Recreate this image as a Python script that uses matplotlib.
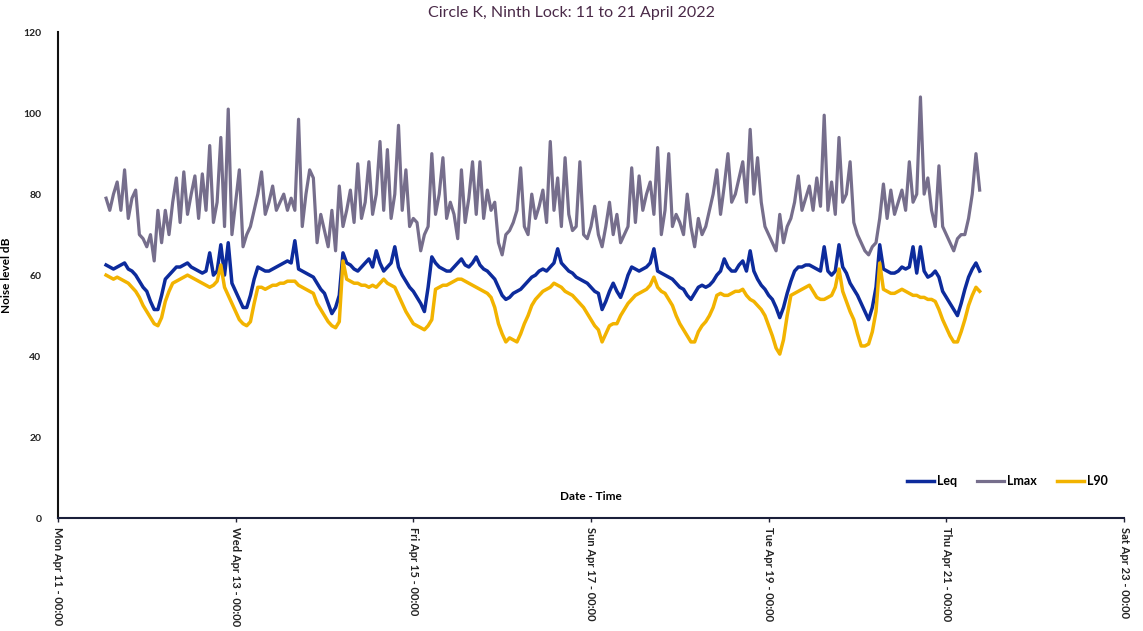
import numpy as np
import pandas as pd
import matplotlib
matplotlib.use("Agg")
import matplotlib.pyplot as plt
import matplotlib.dates as mdates

plt.rcParams['font.family'] = ['Lato', 'DejaVu Sans']

# hourly readings, 11 Apr 13:00 -> 21 Apr 09:00
start = '2022-04-11 13:00'

leq = [
    62.5, 62, 61.5, 62, 62.5, 63, 61.5, 61, 60, 58.5, 57,
    56, 53.5, 51.5, 51.5, 55, 59, 60, 61, 62, 62, 62.5, 63, 62, 61.5, 61, 60.5, 61, 65.5, 60, 61, 67.5, 60, 68, 58,
    56, 54, 52, 52, 55, 59, 62, 61.5, 61, 61, 61.5, 62, 62.5, 63, 63.5, 63, 68.5, 61.5, 61, 60.5, 60, 59.5, 58, 56.5,
    55.5, 53, 50.5, 52, 55, 65.5, 63, 62.5, 61.5, 61, 62, 63, 64, 62, 66, 63, 61, 62, 63, 67, 62, 60, 58.5, 57,
    56, 54.5, 53, 51, 57, 64.5, 63, 62, 61.5, 61, 61, 62, 63, 64, 62.5, 62, 63, 64.5, 62.5, 61.5, 61, 60, 59, 57,
    55, 54, 54.5, 55.5, 56, 56.5, 57.5, 58.5, 59.5, 60, 61, 61.5, 61, 62, 63, 66.5, 63, 62, 61, 60.5, 59.5, 59, 58.5, 58,
    57, 56, 55.5, 51.5, 53.5, 56, 58, 56, 54.5, 57, 60, 62, 61.5, 61, 61.5, 62, 63, 66.5, 61, 60.5, 60, 59.5, 59, 58,
    57, 56.5, 55, 54, 55.5, 57, 57.5, 57, 57.5, 58.5, 60, 61, 64, 62, 61, 61, 62.5, 63.5, 61, 66, 61, 59, 57.5, 56.5,
    55, 54, 52, 49.5, 52, 55.5, 58.5, 61, 62, 62, 62.5, 62.5, 62, 61.5, 61, 67, 61, 60, 61, 67.5, 62, 60.5, 58, 56.5,
    55, 53, 51, 49, 52, 57, 67.5, 61.5, 61, 60.5, 60.5, 61, 62, 61.5, 62, 67, 60.5, 67, 61, 59.5, 60, 61, 59.5, 56,
    54.5, 53, 51.5, 50, 53, 56.5, 59.5, 61.5, 63, 61,
]

lmax = [
    79, 76, 80, 83, 76, 86, 74, 79, 81, 70, 69,
    67, 70, 63.5, 76, 68, 76, 70, 78, 84, 73, 85.5, 75, 80, 84.5, 74, 85, 76, 92, 73, 78, 94, 72, 101, 70,
    78, 86, 67, 70, 72, 76, 80, 85.5, 75, 78, 82, 76, 78, 80, 76, 79, 76, 98.5, 72, 80, 86, 84, 68, 75,
    71, 67, 76, 66, 82, 72, 76, 81, 73, 87.5, 74, 78, 88, 75, 80, 93, 76, 91, 74, 80, 97, 76, 86, 72,
    74, 73, 66, 70, 72, 90, 75, 80, 89, 74, 78, 75, 69, 86, 73, 79, 88, 75, 88, 74, 81, 76, 78, 68,
    65, 70, 71, 73, 76, 86.5, 72, 70, 80, 74, 77, 81, 73, 93, 76, 84, 72, 89, 75, 71, 72, 88, 70, 69,
    72, 77, 70, 67, 72, 78, 70, 75, 68, 70, 72, 86.5, 73, 84.5, 76, 80, 83, 75, 91.5, 70, 76, 90, 72, 75,
    73, 70, 80, 72, 67, 74, 70, 72, 76, 80, 86, 75, 82, 90, 78, 80, 84, 88, 78, 96, 80, 89, 78, 72,
    70, 68, 66, 75, 68, 72, 74, 78, 84.5, 76, 79, 82, 76, 84, 77, 99.5, 76, 83, 75, 94, 78, 80, 88, 73,
    70, 68, 66, 65, 67, 68, 74, 82.5, 74, 81, 75, 78, 81, 76, 88, 78, 80, 104, 80, 84, 76, 72, 87, 72,
    70, 68, 66, 69, 70, 70, 74, 80, 90, 81,
]

l90 = [
    60, 59.5, 59, 59.5, 59, 58.5, 58, 57, 56, 54.5, 52.5,
    51, 49.5, 48, 47.5, 49.5, 53.5, 56, 58, 58.5, 59, 59.5, 60, 59.5, 59, 58.5, 58, 57.5, 57, 57.5, 58.5, 62.5, 57, 55, 53,
    51, 49, 48, 47.5, 48.5, 53, 57, 57, 56.5, 57, 57.5, 57.5, 58, 58, 58.5, 58.5, 58.5, 57.5, 57, 56.5, 56, 55.5, 53, 51.5,
    50, 48.5, 47.5, 47, 48.5, 63.5, 59, 58.5, 58, 58, 57.5, 57.5, 57, 57.5, 57, 58, 59, 58, 57.5, 57, 55, 53, 51, 49.5,
    48, 47.5, 47, 46.5, 47.5, 49, 56.5, 57, 57.5, 57.5, 58, 58.5, 59, 59, 58.5, 58, 57.5, 57, 56.5, 56, 55.5, 54.5, 52, 48,
    45.5, 43.5, 44.5, 44, 43.5, 45.5, 48, 50, 52.5, 54, 55, 56, 56.5, 57, 58, 57.5, 57, 56, 55.5, 55, 54, 53, 52, 50.5,
    49, 47.5, 46.5, 43.5, 45.5, 47.5, 48, 48, 50, 51.5, 53, 54, 55, 55.5, 56, 56.5, 57.5, 59.5, 57, 56, 55.5, 54, 52.5, 50,
    48, 46.5, 45, 43.5, 43.5, 46, 47.5, 48.5, 50, 52, 55, 55.5, 55, 55, 55.5, 56, 56, 56.5, 55, 54, 53.5, 52.5, 51.5, 50,
    47.5, 45, 42, 40.5, 44, 50, 55, 55.5, 56, 56.5, 57, 57.5, 56, 54.5, 54, 54, 54.5, 55, 57, 61.5, 56, 53.5, 51, 49,
    45.5, 42.5, 42.5, 43, 46, 51, 63, 56.5, 56, 55.5, 55.5, 56, 56.5, 56, 55.5, 55, 55, 54.5, 54.5, 54, 54, 53.5, 51.5, 49,
    47, 45, 43.5, 43.5, 46, 49, 52.5, 55, 57, 56,
]

times = pd.date_range(start, periods=len(leq), freq='h')

fig = plt.figure(figsize=(11.43, 6.31), dpi=100)
ax = fig.add_axes([0.0507, 0.179, 0.9327, 0.770])

ax.plot(times, leq, color='#0d2b9c', lw=2.5, label='Leq', solid_joinstyle='round')
ax.plot(times, lmax, color='#766e8c', lw=2.3, label='Lmax', solid_joinstyle='round')
ax.plot(times, l90, color='#f2b300', lw=2.5, label='L90', solid_joinstyle='round')

ax.set_xlim(pd.Timestamp('2022-04-11'), pd.Timestamp('2022-04-23'))
ax.set_ylim(0, 120)
ax.set_yticks(np.arange(0, 121, 20))
ax.xaxis.set_major_locator(mdates.DayLocator(interval=2))
ax.xaxis.set_major_formatter(mdates.DateFormatter('%a %b %d - %H:%M'))
plt.setp(ax.get_xticklabels(), rotation=-90, ha='center', va='top',
         fontsize=8, fontweight='bold', color='#222222')
plt.setp(ax.get_yticklabels(), fontsize=7.5, fontweight='bold', color='#222222')
ax.tick_params(axis='x', length=3, width=1, color='#222233')
ax.tick_params(axis='y', length=0, pad=12)

for s in ['top', 'right']:
    ax.spines[s].set_visible(False)
ax.spines['left'].set_color('#111111')
ax.spines['bottom'].set_color('#1a1f3a')
ax.spines['left'].set_linewidth(1.5)
ax.spines['bottom'].set_linewidth(1.5)

ax.set_ylabel('Noise level dB', fontsize=8.5, fontweight='bold', labelpad=8)
ax.text(0.5, 0.045, 'Date - Time', transform=ax.transAxes, ha='center',
        va='center', fontsize=8.5, fontweight='bold')

fig.text(0.5, 0.979, 'Circle K, Ninth Lock: 11 to 21 April 2022', ha='center',
         va='center', fontsize=11.5, color='#4a2a48')

leg = ax.legend(loc='lower right', bbox_to_anchor=(0.995, 0.04), ncol=3,
                frameon=False, fontsize=9, handlelength=2.2, columnspacing=1.6,
                handletextpad=0.2)
for t in leg.get_texts():
    t.set_fontweight('bold')

fig.savefig('out.png', dpi=100)
